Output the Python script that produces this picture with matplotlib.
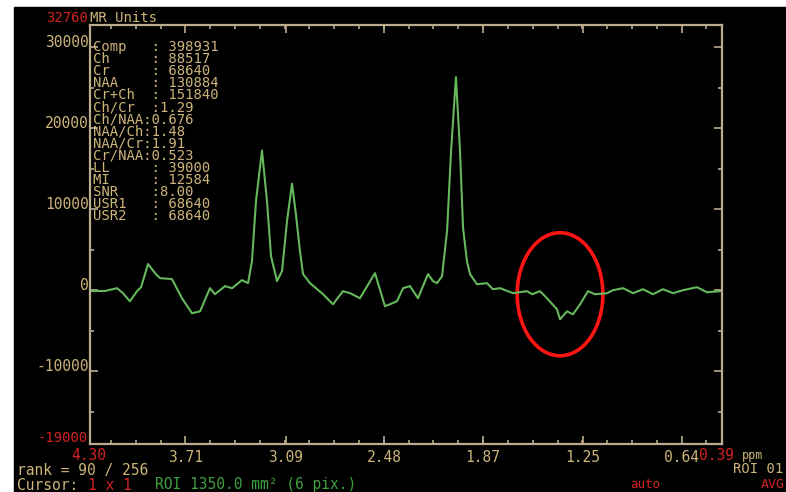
# %%

import matplotlib
matplotlib.use('Agg')
import matplotlib.pyplot as plt
from matplotlib.patches import Rectangle, Ellipse
import numpy as np


# %%

# spectrum (ppm, MR units)
ppm = [4.30, 4.207, 4.133, 4.096, 4.053, 4.009, 3.984, 3.941, 3.898, 3.867,
       3.793, 3.731, 3.669, 3.619, 3.558, 3.527, 3.465, 3.421, 3.360, 3.322,
       3.298, 3.273, 3.236, 3.205, 3.180, 3.143, 3.112, 3.081, 3.050, 3.025,
       3.001, 2.982, 2.939, 2.858, 2.797, 2.735, 2.691, 2.630, 2.537, 2.475,
       2.401, 2.363, 2.320, 2.271, 2.209, 2.178, 2.153, 2.122, 2.091, 2.066,
       2.036, 2.011, 1.992, 1.968, 1.949, 1.906, 1.844, 1.807, 1.763, 1.683,
       1.596, 1.565, 1.516, 1.473, 1.411, 1.392, 1.349, 1.312, 1.268, 1.219,
       1.176, 1.101, 1.064, 1.002, 0.940, 0.879, 0.817, 0.755, 0.693, 0.631,
       0.545, 0.483, 0.402]
mr_units = [-100, -100, 250, -370, -1370, -120, 370, 3230, 2110, 1490,
            1370, -990, -2850, -2610, 250, -500, 500, 250, 1240, 870,
            3600, 11000, 17250, 11000, 4200, 1120, 2360, 8560, 13150, 9180,
            4840, 1990, 870, -500, -1740, -120, -370, -990, 2110, -1990,
            -1370, 250, 500, -990, 1990, 1120, 870, 1740, 7320, 17250,
            26310, 17250, 7690, 3600, 1990, 740, 870, 120, 250, -370,
            -120, -500, -120, -990, -2360, -3600, -2610, -2980, -1740, -120,
            -500, -370, 0, 250, -370, 120, -500, 120, -370, 0,
            370, -250, -120]

xticks = [3.71, 3.09, 2.48, 1.87, 1.25, 0.64]
xtick_labels = ['3.71', '3.09', '2.48', '1.87', '1.25', '0.64']
yticks = [30000, 20000, 10000, 0, -10000]
ytick_labels = ['30000', '20000', '10000', '0', '-10000']

ppm_range = (4.30, 0.39)
y_range = (-19000, 32760)

info = ['Comp   : 398931',
        'Ch     : 88517',
        'Cr     : 68640',
        'NAA    : 130884',
        'Cr+Ch  : 151840',
        'Ch/Cr  :1.29',
        'Ch/NAA:0.676',
        'NAA/Ch:1.48',
        'NAA/Cr:1.91',
        'Cr/NAA:0.523',
        'LL     : 39000',
        'MI     : 12584',
        'SNR    :8.00',
        'USR1   : 68640',
        'USR2   : 68640']

# circled region (center ppm, center value, width ppm, height)
roi = (1.392, -500, 0.53, 15200)


# %%

tan = '#cdb47a'
frame = '#bcab8c'
red = '#d42222'
green = '#3f9f3f'
mono = 'DejaVu Sans Mono'

W, H = 786, 492
fig = plt.figure(figsize=(W/100, H/100), dpi=100, facecolor='white')
fig.patches.append(Rectangle((14/W, 0), 1, 1 - 7/H, transform=fig.transFigure,
                             color='black', zorder=-10))

ax = fig.add_axes([90/W, 1 - 444/H, 632/W, 419/H])
ax.set_facecolor('black')
ax.plot(ppm, mr_units, color='#66b85c', lw=1.5)
ax.set_xlim(*ppm_range)
ax.set_ylim(*y_range)

for s in ax.spines.values():
    s.set_color(frame)
    s.set_linewidth(1.6)

ax.set_xticks(xticks, labels=xtick_labels)
step = (xticks[0] - xticks[-1]) / (len(xticks) - 1) / 4
ax.set_xticks(np.arange(xticks[-1] - step, ppm_range[0], step), minor=True)
ax.set_yticks(yticks, labels=ytick_labels)
ax.set_yticks(np.arange(-15000, 32000, 5000), minor=True)
ax.tick_params(which='both', direction='in', color=frame, top=True, right=True,
               labelcolor=tan, labelsize=10.5)
ax.tick_params(which='major', length=6, width=1.2)
ax.tick_params(which='minor', length=3, width=1.2)
ax.tick_params(axis='x', pad=4)
ax.tick_params(axis='y', pad=1)
for lab in ax.get_xticklabels() + ax.get_yticklabels():
    lab.set_family(mono)
for lab in ax.get_yticklabels():
    lab.set_verticalalignment('baseline')

ax.add_patch(Ellipse(roi[:2], roi[2], roi[3], fill=False, ec='#ff1414', lw=2.6))

# readout text, one block
fig.text(93/W, 1 - 39.5/H, '\n'.join(info), color=tan, family=mono,
         fontsize=10, linespacing=0.83, va='top', ha='left')

fig.text(88/W, 1 - 18/H, '32760', color=red, family=mono, fontsize=10, ha='right', va='center')
fig.text(90/W, 1 - 18/H, 'MR Units', color=tan, family=mono, fontsize=10, ha='left', va='center')
fig.text(88/W, 1 - 438/H, '-19000', color=red, family=mono, fontsize=10, ha='right', va='center')
fig.text(89/W, 1 - 456/H, '4.30', color=red, family=mono, fontsize=10.5, ha='center', va='center')
fig.text(717/W, 1 - 456/H, '0.39', color=red, family=mono, fontsize=10.5, ha='center', va='center')
fig.text(742/W, 1 - 456/H, 'ppm', color=tan, family=mono, fontsize=8.5, ha='left', va='center')
fig.text(733/W, 1 - 469/H, 'ROI 01', color=tan, family=mono, fontsize=10, ha='left', va='center')
fig.text(630/W, 1 - 485/H, 'auto', color=red, family=mono, fontsize=9, ha='left', va='center')
fig.text(785/W, 1 - 485/H, 'AVG', color=red, family=mono, fontsize=9.5, ha='right', va='center')
fig.text(17/W, 1 - 470/H, 'rank = 90 / 256', color=tan, family=mono, fontsize=10.5, ha='left', va='center')
fig.text(17/W, 1 - 485/H, 'Cursor:', color=tan, family=mono, fontsize=10.5, ha='left', va='center')
fig.text(88/W, 1 - 485/H, '1 x 1', color=red, family=mono, fontsize=10.5, ha='left', va='center')
fig.text(155/W, 1 - 485/H, 'ROI 1350.0 mm² (6 pix.)', color=green, family=mono, fontsize=10.5,
         ha='left', va='center')

plt.savefig('out.png', dpi=100, facecolor='white')
